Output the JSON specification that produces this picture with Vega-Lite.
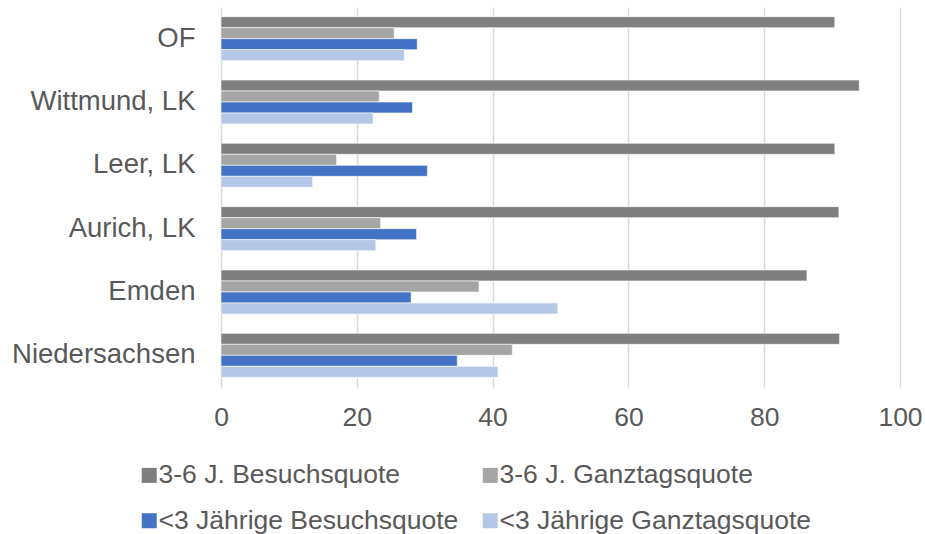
{
  "$schema": "https://vega.github.io/schema/vega-lite/v6.json",
  "width": 679,
  "height": 380,
  "autosize": {"type": "none"},
  "padding": {"left": 221, "top": 7, "right": 25, "bottom": 147},
  "background": "white",
  "config": {
    "view": {"stroke": null},
    "font": "Liberation Sans",
    "text": {"font": "Liberation Sans"}
  },
  "data": {
    "values": [
      {"region": "OF", "series": "3-6 J. Besuchsquote", "value": 90.4},
      {"region": "OF", "series": "3-6 J. Ganztagsquote", "value": 25.5},
      {"region": "OF", "series": "<3 Jährige Besuchsquote", "value": 28.9},
      {"region": "OF", "series": "<3 Jährige Ganztagsquote", "value": 27.0},
      {"region": "Wittmund, LK", "series": "3-6 J. Besuchsquote", "value": 94.0},
      {"region": "Wittmund, LK", "series": "3-6 J. Ganztagsquote", "value": 23.3},
      {"region": "Wittmund, LK", "series": "<3 Jährige Besuchsquote", "value": 28.2},
      {"region": "Wittmund, LK", "series": "<3 Jährige Ganztagsquote", "value": 22.4},
      {"region": "Leer, LK", "series": "3-6 J. Besuchsquote", "value": 90.4},
      {"region": "Leer, LK", "series": "3-6 J. Ganztagsquote", "value": 17.0},
      {"region": "Leer, LK", "series": "<3 Jährige Besuchsquote", "value": 30.4},
      {"region": "Leer, LK", "series": "<3 Jährige Ganztagsquote", "value": 13.5},
      {"region": "Aurich, LK", "series": "3-6 J. Besuchsquote", "value": 91.0},
      {"region": "Aurich, LK", "series": "3-6 J. Ganztagsquote", "value": 23.5},
      {"region": "Aurich, LK", "series": "<3 Jährige Besuchsquote", "value": 28.8},
      {"region": "Aurich, LK", "series": "<3 Jährige Ganztagsquote", "value": 22.8},
      {"region": "Emden", "series": "3-6 J. Besuchsquote", "value": 86.3},
      {"region": "Emden", "series": "3-6 J. Ganztagsquote", "value": 38.0},
      {"region": "Emden", "series": "<3 Jährige Besuchsquote", "value": 28.0},
      {"region": "Emden", "series": "<3 Jährige Ganztagsquote", "value": 49.6},
      {"region": "Niedersachsen", "series": "3-6 J. Besuchsquote", "value": 91.1},
      {"region": "Niedersachsen", "series": "3-6 J. Ganztagsquote", "value": 42.9},
      {"region": "Niedersachsen", "series": "<3 Jährige Besuchsquote", "value": 34.8},
      {"region": "Niedersachsen", "series": "<3 Jährige Ganztagsquote", "value": 40.8}
    ]
  },
  "mark": {"type": "bar", "stroke": "white", "strokeWidth": 0.6},
  "encoding": {
    "y": {
      "field": "region",
      "type": "nominal",
      "sort": ["OF", "Wittmund, LK", "Leer, LK", "Aurich, LK", "Emden", "Niedersachsen"],
      "scale": {"paddingInner": 0.305, "paddingOuter": 0.1525},
      "axis": {
        "title": null,
        "domain": false,
        "ticks": false,
        "grid": false,
        "labelFontSize": 27.5,
        "labelColor": "#595959",
        "labelPadding": 26,
        "labelFont": "Liberation Sans",
        "labelLimit": 300
      }
    },
    "yOffset": {
      "field": "series",
      "type": "nominal",
      "sort": ["3-6 J. Besuchsquote", "3-6 J. Ganztagsquote", "<3 Jährige Besuchsquote", "<3 Jährige Ganztagsquote"],
      "scale": {"paddingInner": 0, "paddingOuter": 0}
    },
    "x": {
      "field": "value",
      "type": "quantitative",
      "scale": {"domain": [0, 100], "nice": false},
      "axis": {
        "title": null,
        "values": [0, 20, 40, 60, 80, 100],
        "domain": false,
        "ticks": false,
        "tickSize": 0,
        "grid": true,
        "gridColor": "#d9d9d9",
        "gridWidth": 1.5,
        "labelFlush": false,
        "labelFontSize": 26.5,
        "labelColor": "#595959",
        "labelPadding": 17,
        "labelFont": "Liberation Sans"
      }
    },
    "color": {
      "field": "series",
      "type": "nominal",
      "scale": {
        "domain": ["3-6 J. Besuchsquote", "3-6 J. Ganztagsquote", "<3 Jährige Besuchsquote", "<3 Jährige Ganztagsquote"],
        "range": ["#7f7f7f", "#a5a5a5", "#4472c4", "#b4c7e7"]
      },
      "legend": {
        "title": null,
        "orient": "none",
        "legendX": -85,
        "legendY": 455,
        "direction": "horizontal",
        "columns": 2,
        "columnPadding": 18,
        "rowPadding": 18.5,
        "symbolType": "square",
        "symbolSize": 225,
        "symbolStrokeWidth": 0,
        "labelOffset": -4,
        "labelFontSize": 26.5,
        "labelColor": "#595959",
        "labelFont": "Liberation Sans",
        "labelLimit": 400
      }
    }
  }
}
